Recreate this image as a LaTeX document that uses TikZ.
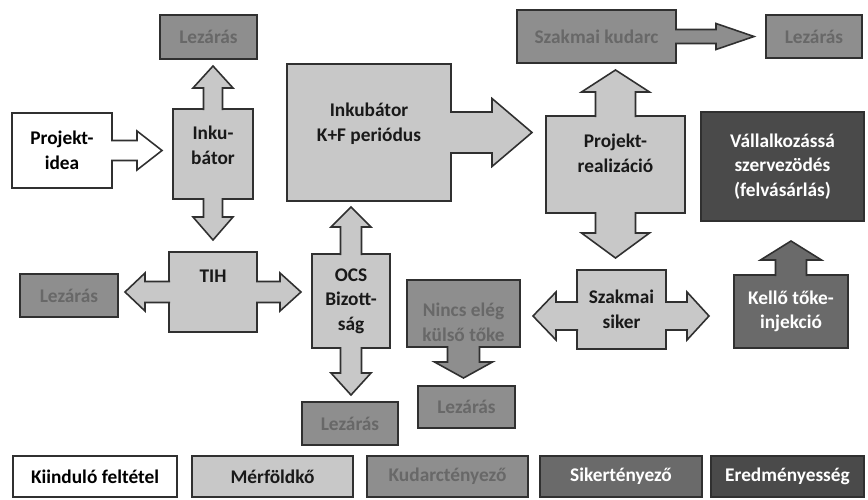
\documentclass[tikz,border=0pt]{standalone}
\usepackage{fontspec}
\setmainfont{Carlito}
\usetikzlibrary{calc}

\definecolor{milec}{HTML}{C8C8C8}
\definecolor{failc}{HTML}{8E8E8E}
\definecolor{failtext}{HTML}{686868}
\definecolor{succc}{HTML}{6A6A6A}
\definecolor{resc}{HTML}{4A4A4A}
\definecolor{edgec}{HTML}{303030}

\tikzset{
  box/.style={draw=edgec, line width=0.9pt, outer sep=0pt, inner sep=0pt,
    font=\bfseries\fontsize{11}{14}\selectfont, align=center},
  wh/.style 2 args={minimum width=#1*0.2mm, minimum height=#2*0.2mm},
  startbox/.style={box, fill=white, text=black},
  milebox/.style={box, fill=milec, text=black!90},
  failbox/.style={box, fill=failc, text=failtext},
  succbox/.style={box, fill=succc, text=white},
  resbox/.style={box, fill=resc, text=white},
  lbl/.style={inner sep=0pt, font=\bfseries\fontsize{11}{14}\selectfont, align=center},
  startarr/.style={draw=edgec, line width=0.9pt, fill=white},
  milearr/.style={draw=edgec, line width=0.9pt, fill=milec},
  failarr/.style={draw=edgec, line width=0.9pt, fill=failc},
  succarr/.style={draw=edgec, line width=0.9pt, fill=succc}
}

% block arrow out of a box side: style, anchor, angle, stem, head, base, tip
\newcommand\blockarrow[7]{%
  \draw[#1, shift={(#2)}, rotate=#3] (-1,-#4) -- (#6,-#4) -- (#6,-#5) -- (#7,0)
    -- (#6,#5) -- (#6,#4) -- (-1,#4);}

\begin{document}
\begin{tikzpicture}[x=0.2mm, y=-0.2mm]
\fill[white] (0,0) rectangle (868,500);
\useasboundingbox (0,0) rectangle (868,500);

% boxes
\node[startbox, wh={100}{75}] (idea) at (62,150.5) {Projekt-\\idea};
\node[milebox, wh={80}{90}] (inku) at (213,154) {};
\node[failbox, wh={97}{44}] (lez1) at (208.5,37) {Lezárás};
\node[milebox, wh={164}{137}] (kf) at (369,132.5) {};
\node[milebox, wh={88}{80}] (tih) at (213,292) {};
\node[failbox, wh={98}{43}] (lez2) at (69,295.5) {Lezárás};
\node[milebox, wh={78}{94}] (ocs) at (351,301) {OCS\\Bizott-\\ság};
\node[failbox, wh={96}{43}] (lez3) at (350,423.5) {Lezárás};
\node[failbox, wh={113}{67}] (nincs) at (463.5,313.5) {};
\node[failbox, wh={97}{42}] (lez4) at (466.5,407) {Lezárás};
\node[failbox, wh={159}{53}] (kudarc) at (596.5,36.5) {Szakmai kudarc};
\node[failbox, wh={96}{43}] (lez5) at (814,36.5) {Lezárás};
\node[milebox, wh={139}{97}] (real) at (615.5,164.5) {};
\node[resbox, wh={163}{109}] (vall) at (782.5,166.5) {Vállalkozássá\\szervezödés\\(felvásárlás)};
\node[milebox, wh={89}{79}] (siker) at (621.5,309.5) {Szakmai\\siker};
\node[succbox, wh={114}{73}] (kello) at (791,311.5) {Kellő tőke-\\injekció};

% arrows
\blockarrow{startarr}{idea.east}{0}{10}{19.5}{25}{50}
\blockarrow{milearr}{inku.north}{90}{9.5}{20}{21}{43}
\blockarrow{milearr}{inku.south}{-90}{9.5}{20}{18}{41}
\blockarrow{milearr}{kf.east}{0}{20.5}{34}{41}{81}
\blockarrow{milearr}{tih.west}{180}{10.5}{19}{24}{44}
\blockarrow{milearr}{tih.east}{0}{10.5}{19}{23}{44}
\blockarrow{milearr}{ocs.north}{90}{10.5}{20}{27}{47}
\blockarrow{milearr}{ocs.south}{-90}{10.5}{20}{25}{47}
\blockarrow{failarr}{nincs.south}{-90}{16}{29}{15}{31}
\blockarrow{failarr}{kudarc.east}{0}{7}{13}{40}{78}
\blockarrow{milearr}{real.north}{90}{20}{34}{24}{46}
\blockarrow{milearr}{real.south}{-90}{20}{34}{20}{45}
\blockarrow{milearr}{$(siker.west)+(0,6.5)$}{180}{14}{24}{21}{44}
\blockarrow{milearr}{$(siker.east)+(0,6.5)$}{0}{14}{24}{21}{43}
\blockarrow{succarr}{kello.north}{90}{15.5}{30.5}{15}{34}

% texts placed off centre
\node[lbl, text=black!90] (inku-t) at (213,145) {Inku-\\bátor};
\node[lbl, text=black!90] (kf-t) at (369,124) {Inkubátor\\K+F periódus};
\node[lbl, text=black!90] (tih-t) at (213,276) {TIH};
\node[lbl, text=failtext] (nincs-t) at (463.5,322) {Nincs elég\\külső tőke};
\node[lbl, text=black!90] (real-t) at (615.5,153.5) {Projekt-\\realizáció};

% legend
\node[startbox, wh={164}{41}] (leg1) at (95,476.5) {Kiinduló feltétel};
\node[milebox, wh={161}{41}] (leg2) at (272.5,476.5) {Mérföldkő};
\node[failbox, wh={161}{41}] (leg3) at (447.5,476.5) {Kudarctényező};
\node[succbox, wh={162}{41}] (leg4) at (621,476.5) {Sikertényező};
\node[resbox, wh={153}{41}] (leg5) at (787.5,476.5) {Eredményesség};
\end{tikzpicture}
\end{document}
